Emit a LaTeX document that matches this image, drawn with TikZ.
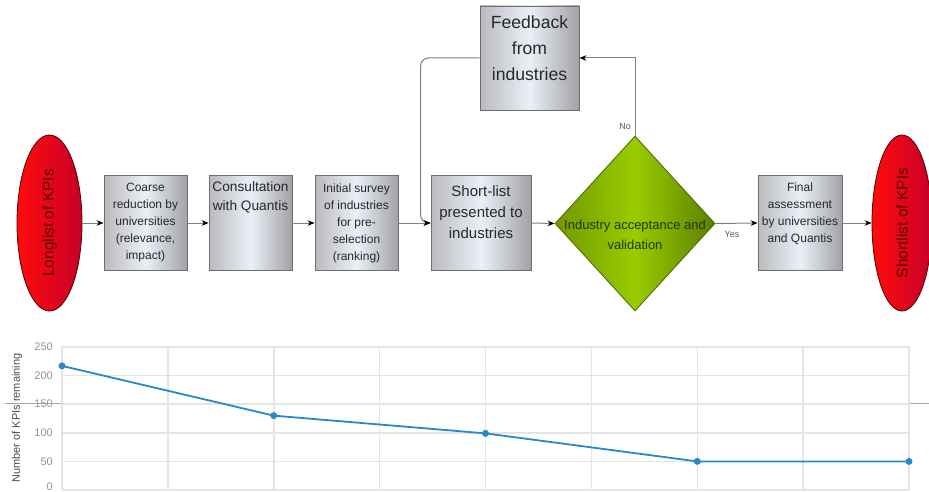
\documentclass[tikz,border=0pt]{standalone}
\usepackage{fontspec}
\setmainfont{Liberation Sans}
\usetikzlibrary{shapes.geometric,arrows.meta}
\definecolor{boxL}{RGB}{186,186,190}
\definecolor{boxM}{RGB}{234,240,248}
\definecolor{boxR}{RGB}{162,162,166}
\definecolor{boxD}{RGB}{110,110,110}
\definecolor{grnL}{RGB}{112,152,0}
\definecolor{grnM}{RGB}{153,204,0}
\definecolor{grnR}{RGB}{92,126,0}
\definecolor{grnD}{RGB}{76,102,0}
\definecolor{grnT}{RGB}{40,52,0}
\definecolor{redL}{RGB}{255,12,12}
\definecolor{redR}{RGB}{200,0,40}
\definecolor{redD}{RGB}{80,0,0}
\definecolor{redT}{RGB}{90,0,0}
\definecolor{connC}{RGB}{128,128,128}
\definecolor{txtC}{RGB}{40,40,40}
\definecolor{gridC}{RGB}{228,228,228}
\definecolor{tickC}{RGB}{150,150,150}
\definecolor{lineC}{RGB}{38,138,200}
\begin{document}
\begin{tikzpicture}[x=1pt,y=-1pt,
  box/.style={draw=boxD, line width=0.8pt, left color=boxL, right color=boxR, middle color=boxM,
    inner sep=0pt, minimum width=83pt, minimum height=95pt},
  redell/.style={ellipse, draw=redD, line width=0.8pt, left color=redL, right color=redR,
    inner sep=0pt, minimum width=65pt, minimum height=176pt},
  dia/.style={diamond, draw=grnD, line width=0.8pt, left color=grnL, right color=grnR, middle color=grnM,
    inner sep=0pt, minimum width=160pt, minimum height=175pt},
  txt/.style={align=center, inner sep=0pt, text=txtC},
  conn/.style={draw=connC, line width=1pt, -{Stealth[length=7pt,width=5.5pt,black]}},
  lbl/.style={font=\fontsize{9}{10}\selectfont, text=black!65, inner sep=0pt},
  tick/.style={font=\fontsize{11}{12}\selectfont, text=tickC, inner sep=0pt, anchor=east},
  grid/.style={draw=gridC, line width=1.5pt},
  dot/.style={circle, fill=lineC, inner sep=0pt, minimum size=7pt}
]
\clip (0,0) rectangle (929,492);
\fill[white] (0,0) rectangle (929,492);

% ---- flowchart nodes ----
\node[redell] (lk) at (49.5,223) {};
\node[rotate=90, font=\fontsize{15.5}{18}\selectfont, text=redT, inner sep=0pt] (lkt) at (lk.center) {Longlist of KPIs};

\node[box] (b1) at (145.5,223) {};
\node[txt, font=\fontsize{12}{17}\selectfont] (b1t) at (145.5,223) {Coarse\\reduction by\\universities\\(relevance,\\impact)};

\node[box] (b2) at (250.5,223) {};
\node[txt, font=\fontsize{13.7}{19}\selectfont] (b2t) at (250.5,197) {Consultation\\with Quantis};

\node[box] (b3) at (356.5,223) {};
\node[txt, font=\fontsize{12}{17}\selectfont] (b3t) at (356.5,223) {Initial survey\\of industries\\for pre-\\selection\\(ranking)};

\node[box, minimum width=100pt] (sl) at (481,223) {};
\node[txt, font=\fontsize{15}{21}\selectfont] (slt) at (481,212) {Short-list\\presented to\\industries};

\node[box, minimum width=99pt, minimum height=104pt] (fb) at (529.5,58) {};
\node[txt, font=\fontsize{17.6}{26}\selectfont] (fbt) at (529.5,48) {Feedback\\from\\industries};

\node[dia] (dm) at (635,223.5) {};
\node[txt, text=grnT, font=\fontsize{13}{19.5}\selectfont] (dmt) at (635,235) {Industry acceptance and\\validation};

\node[box, minimum width=84pt] (fin) at (800,223) {};
\node[txt, font=\fontsize{12}{17}\selectfont] (fint) at (800,213.5) {Final\\assessment\\by universities\\and Quantis};

\node[redell, minimum width=60pt] (sk) at (902,223) {};
\node[rotate=90, font=\fontsize{15.5}{18}\selectfont, text=redT, inner sep=0pt] (skt) at (sk.center) {Shortlist of KPIs};

% ---- connectors ----
\draw[conn] (lk.east) -- (b1.west);
\draw[conn] (b1.east) -- (b2.west);
\draw[conn] (b2.east) -- (b3.west);
\draw[conn] (b3.east) -- (sl.west);
\draw[conn] (sl.east) -- (dm.west);
\draw[conn] (dm.east) -- (fin.west);
\draw[conn] (fin.east) -- (sk.west);
\draw[conn] (dm.north) |- (fb.east);
\draw[conn, rounded corners=8pt] (fb.west) -- ([xshift=-59pt]fb.west) |- (sl.west);
\node[lbl] (no) at (625,126) {No};
\node[lbl] (yes) at (732,234) {Yes};

% ---- chart ----
\draw[draw=black!35, line width=0.7pt] (5,403.5) -- (929,403.5);
\foreach \i in {0,...,8} {
  \draw[grid] ({62+\i*105.875},347) -- ({62+\i*105.875},490);
}
\foreach \v in {50,100,150,200,250} {
  \draw[grid] (62,{490-\v*0.572}) -- (909,{490-\v*0.572});
  \node[tick] (t\v) at (53,{490-\v*0.572}) {\v};
}
\draw[grid] (62,490) -- (909,490);
\node[tick] (t0) at (53,486.5) {0};
\node[rotate=90, font=\fontsize{11}{12}\selectfont, text=black!70, inner sep=0pt] (ylab) at (17,418) {Number of KPIs remaining};

\coordinate (p1) at (62,{490-217*0.572});
\coordinate (p2) at (273.75,{490-130*0.572});
\coordinate (p3) at (485.5,{490-99*0.572});
\coordinate (p4) at (697.25,{490-50*0.572});
\coordinate (p5) at (909,{490-50*0.572});
\draw[draw=lineC, line width=1.8pt, line join=round] (p1) -- (p2) -- (p3) -- (p4) -- (p5);
\foreach \k in {1,...,5} { \node[dot] (d\k) at (p\k) {}; }
\end{tikzpicture}
\end{document}
